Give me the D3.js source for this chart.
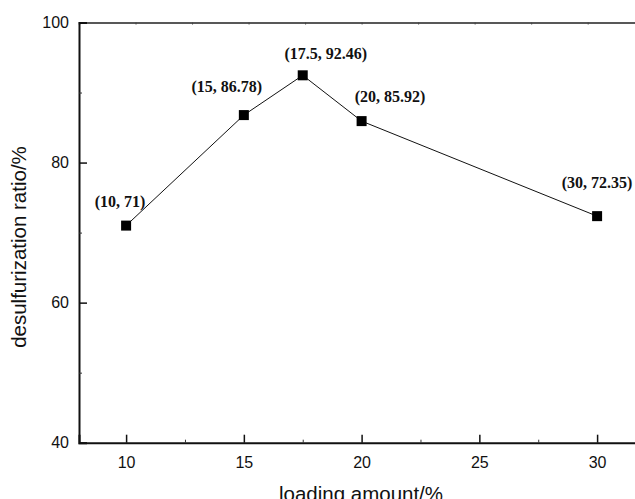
<!DOCTYPE html>
<html>
<head>
<meta charset="utf-8">
<script src="https://cdn.jsdelivr.net/npm/d3@7"></script>
<style>
  html, body { margin: 0; padding: 0; background: #fff; }
  svg { display: block; }
</style>
</head>
<body>
<div id="chart"></div>
<script>
// Loading amount (%) vs desulfurization ratio (%)
const loading = [10, 15, 17.5, 20, 30];
const ratio = [71, 86.78, 92.46, 85.92, 72.35];
const pointLabels = ["(10, 71)", "(15, 86.78)", "(17.5, 92.46)", "(20, 85.92)", "(30, 72.35)"];
const xTicks = [10, 15, 20, 25, 30];
const xMinorTicks = [12.5, 17.5, 22.5, 27.5];
const yTicks = [40, 60, 80, 100];
const yMinorTicks = [50, 70, 90];
const topTicks = [10.4, 12.8, 15.2, 17.6, 20, 22.4, 24.8, 27.2, 29.6, 32];

const W = 635, H = 499;
const svg = d3.select("#chart").append("svg")
  .attr("width", W).attr("height", H);

const x = d3.scaleLinear().domain([8, 32]).range([79, 644.2]);
const y = d3.scaleLinear().domain([40, 100]).range([442.7, 22.5]);

const axisFont = "'Liberation Sans', Arial, sans-serif";

// top frame line with small ticks
const topAxis = svg.append("g").attr("transform", `translate(0,${y(100)})`)
  .call(d3.axisTop(x).tickValues(topTicks).tickSize(-2).tickFormat(""));
topAxis.select(".domain").attr("stroke", "#222").attr("stroke-width", 1.5);
topAxis.selectAll(".tick line").attr("stroke", "#444");

// bottom axis: major ticks point inward
const bottom = svg.append("g").attr("transform", `translate(0,${y(40)})`)
  .call(d3.axisBottom(x).tickValues(xTicks).tickSize(-8).tickPadding(14).tickFormat(d3.format("d")));
bottom.select(".domain").attr("stroke", "#111").attr("stroke-width", 2);
bottom.selectAll(".tick line").attr("stroke", "#111").attr("stroke-width", 1.5);
bottom.selectAll("text").attr("font-family", axisFont).attr("font-size", 16).attr("fill", "#111");

svg.append("g").attr("transform", `translate(0,${y(40)})`)
  .call(d3.axisBottom(x).tickValues(xMinorTicks).tickSize(-3).tickFormat(""))
  .call(g => g.select(".domain").remove())
  .selectAll(".tick line").attr("stroke", "#333");

// left axis
const left = svg.append("g").attr("transform", `translate(${x(8)},0)`)
  .call(d3.axisLeft(y).tickValues(yTicks).tickSize(-8).tickPadding(10).tickFormat(d3.format("d")));
left.select(".domain").attr("stroke", "#111").attr("stroke-width", 2);
left.selectAll(".tick line").attr("stroke", "#111").attr("stroke-width", 1.5);
left.selectAll("text").attr("font-family", axisFont).attr("font-size", 16).attr("fill", "#111");

svg.append("g").attr("transform", `translate(${x(8)},0)`)
  .call(d3.axisLeft(y).tickValues(yMinorTicks).tickSize(-3).tickFormat(""))
  .call(g => g.select(".domain").remove())
  .selectAll(".tick line").attr("stroke", "#333");

// axis titles
svg.append("text")
  .attr("x", 361).attr("y", 500.5)
  .attr("text-anchor", "middle")
  .attr("font-family", axisFont).attr("font-size", 20.5).attr("fill", "#111")
  .text("loading amount/%");

svg.append("text")
  .attr("transform", `translate(26,247) rotate(-90)`)
  .attr("text-anchor", "middle")
  .attr("font-family", axisFont).attr("font-size", 20.5).attr("fill", "#111")
  .text("desulfurization ratio/%");

// data line and markers
const data = loading.map((v, i) => ({ x: v, y: ratio[i], label: pointLabels[i] }));

svg.append("path")
  .datum(data)
  .attr("fill", "none").attr("stroke", "#111").attr("stroke-width", 1)
  .attr("d", d3.line().x(d => x(d.x)).y(d => y(d.y)));

const s = 10;
svg.selectAll("rect.pt").data(data).enter().append("rect")
  .attr("class", "pt")
  .attr("x", d => x(d.x) - s / 2).attr("y", d => y(d.y) - s / 2)
  .attr("width", s).attr("height", s).attr("fill", "#000");

// value labels above each point
const labelShift = [[-6, -19], [-17, -23.5], [23, -16], [28.5, -19.6], [0, -28]];
svg.selectAll("text.lbl").data(data).enter().append("text")
  .attr("class", "lbl")
  .attr("x", (d, i) => x(d.x) + labelShift[i][0])
  .attr("y", (d, i) => y(d.y) + labelShift[i][1])
  .attr("text-anchor", "middle")
  .attr("font-family", "'Liberation Serif', 'Times New Roman', serif")
  .attr("font-weight", "bold").attr("font-size", 16).attr("fill", "#111")
  .text(d => d.label);
</script>
</body>
</html>
